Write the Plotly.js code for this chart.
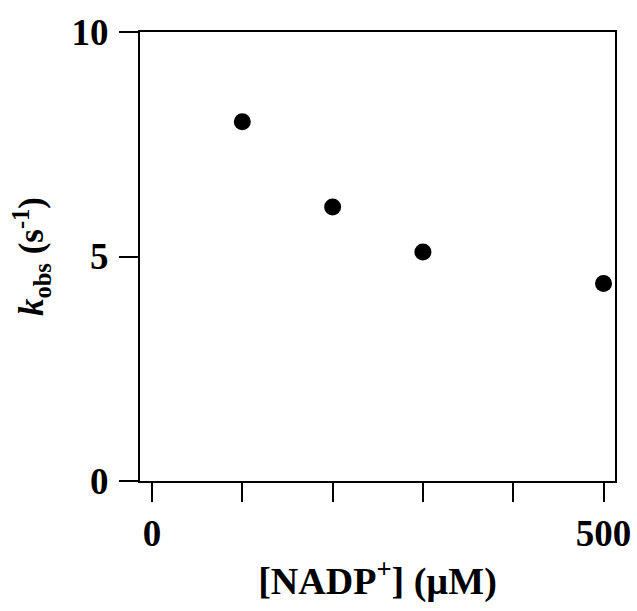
<!DOCTYPE html>
<html>
<head>
<meta charset="utf-8">
<script src="https://cdn.plot.ly/plotly-3.0.1.min.js"></script>
<style>
  html, body { margin: 0; padding: 0; background: #fff; }
  #chart { width: 637px; height: 611px; }
</style>
</head>
<body>
<div id="chart"></div>
<script>
// NADP+ concentration (µM) and observed rate constant k_obs (s^-1)
const nadpConc = [100, 200, 300, 500];
const kObs = [8.0, 6.1, 5.1, 4.4];

// Axis ticks
const xTickVals = [0, 100, 200, 300, 400, 500];
const xTickText = ['0', '', '', '', '', '500'];
const yTickVals = [0, 5, 10];
const yTickText = ['0', '5', '10'];

const serif = 'Liberation Serif, Times New Roman, serif';

const trace = {
  x: nadpConc,
  y: kObs,
  type: 'scatter',
  mode: 'markers',
  marker: { color: '#000', size: 17, line: { width: 0 } },
  cliponaxis: false,
  showlegend: false,
  hoverinfo: 'x+y'
};

const axisCommon = {
  showgrid: false,
  zeroline: false,
  showline: true,
  linecolor: '#000',
  linewidth: 2,
  mirror: true,
  ticks: 'outside',
  ticklen: 19,
  tickwidth: 2,
  tickcolor: '#000',
  tickfont: { family: serif, size: 37, color: '#000', weight: 'bold' }
};

const layout = {
  width: 637,
  height: 611,
  margin: { l: 140, r: 21.5, t: 31.7, b: 129.7, pad: 0 },
  paper_bgcolor: '#fff',
  plot_bgcolor: '#fff',
  xaxis: Object.assign({}, axisCommon, {
    range: [-13.3, 512.7],
    tickmode: 'array',
    tickvals: xTickVals,
    ticktext: xTickText,
    automargin: false,
    title: {
      text: '[NADP<sup>+</sup>] (µM)',
      font: { family: serif, size: 38, color: '#000', weight: 'bold' },
      standoff: 14
    }
  }),
  yaxis: Object.assign({}, axisCommon, {
    range: [0, 10],
    tickmode: 'array',
    tickvals: yTickVals,
    ticktext: yTickText,
    ticklabelstandoff: 3,
    automargin: false,
    title: {
      text: '<i>k</i><sub>obs</sub> (s<sup>-1</sup>)',
      font: { family: serif, size: 35, color: '#000', weight: 'bold' },
      standoff: 17
    }
  })
};

Plotly.newPlot('chart', [trace], layout, { staticPlot: true, displayModeBar: false });
</script>
</body>
</html>
